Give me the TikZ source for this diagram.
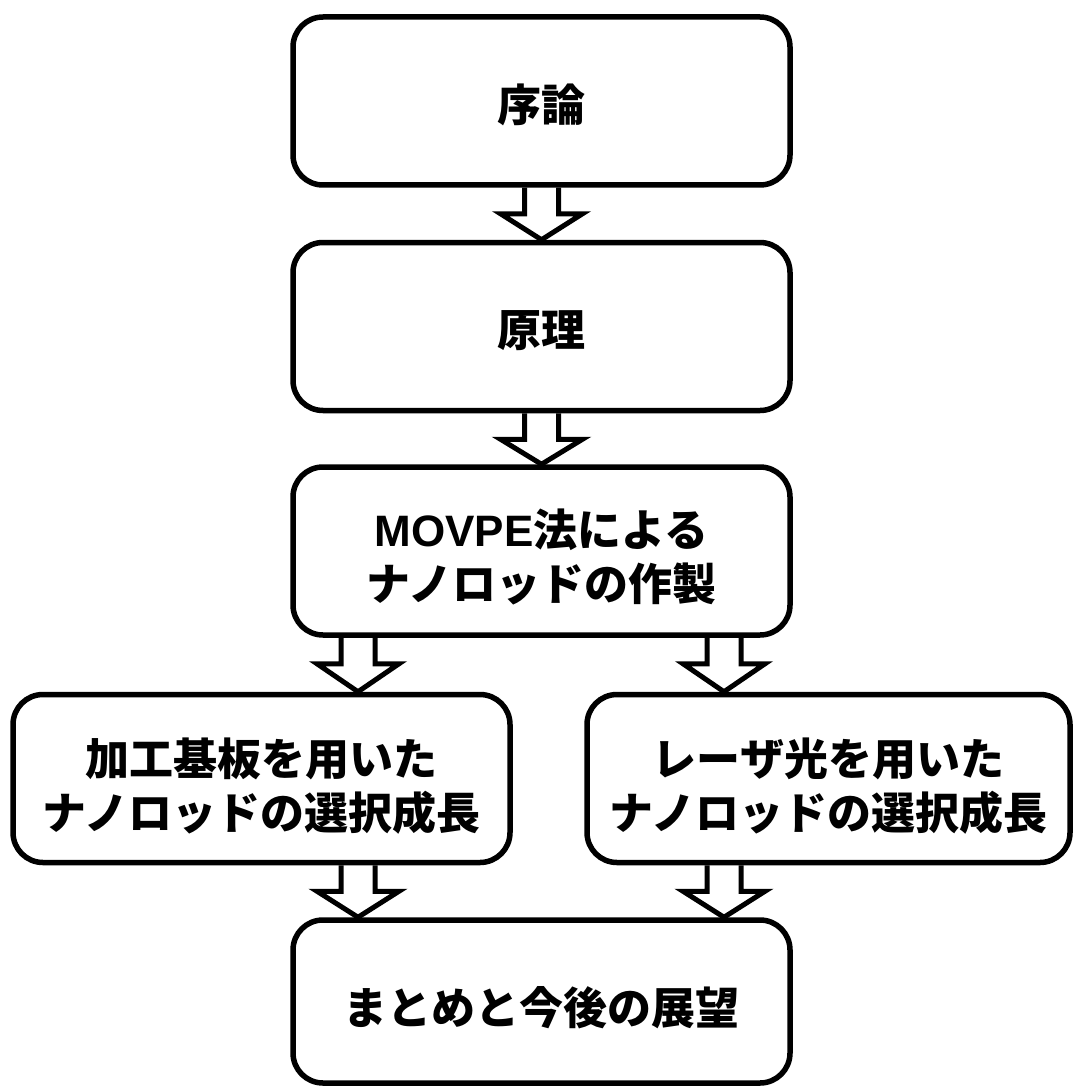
\documentclass[tikz,border=0pt]{standalone}
\usepackage{fontspec}
\setmainfont{Liberation Sans}
\newfontfamily\jp{Noto Sans CJK JP}
\newcommand{\lat}{\rmfamily}
\begin{document}
\begin{tikzpicture}[x=1pt,y=-1pt,
  box/.style={draw=black, line width=5.5pt, rounded corners=30pt, minimum width=497pt, minimum height=168pt, inner sep=0pt},
  txt/.style={align=center, font=\fontsize{44}{54}\selectfont\bfseries\jp, inner sep=0pt},
  arr/.style={draw=black, line width=5pt, line join=miter}
]
\useasboundingbox (0,0) rectangle (1075,1086);
% boxes
\node[box] (b1) at (541.5,101) {};
\node[box] (b2) at (541.5,326.5) {};
\node[box] (b3) at (541.5,551) {};
\node[box] (b4) at (261.5,778.5) {};
\node[box, minimum width=483pt] (b5) at (828.5,778.5) {};
\node[box, minimum height=163pt] (b6) at (541.5,1001.5) {};
% texts
\node[txt] (t1) at ([yshift=-4pt]b1.center) {序論};
\node[txt] (t2) at ([yshift=-4pt]b2.center) {原理};
\node[txt] (t3) at ([yshift=-6pt]b3.center) {{\lat MOVPE}法による\\ナノロッドの作製};
\node[txt] (t4) at ([yshift=-8pt]b4.center) {加工基板を用いた\\ナノロッドの選択成長};
\node[txt] (t5) at ([yshift=-8pt]b5.center) {レーザ光を用いた\\ナノロッドの選択成長};
\node[txt] (t6) at ([yshift=-6pt]b6.center) {まとめと今後の展望};
% block arrows
\newcommand{\blockarrow}[3]{%
  \coordinate (s) at (#3,0 |- #1.south);
  \coordinate (e) at (#3,0 |- #2.north);
  \draw[arr] ([xshift=-17pt]s) -- ([xshift=-17pt,yshift=-26pt]s) -- ([xshift=-41pt,yshift=-26pt]s)
     -- (e) -- ([xshift=41pt,yshift=-26pt]s) -- ([xshift=17pt,yshift=-26pt]s) -- ([xshift=17pt]s);
}
\blockarrow{b1}{b2}{541.5}
\blockarrow{b2}{b3}{541.5}
\blockarrow{b3}{b4}{358}
\blockarrow{b3}{b5}{724}
\blockarrow{b4}{b6}{358}
\blockarrow{b5}{b6}{724}
\end{tikzpicture}
\end{document}
